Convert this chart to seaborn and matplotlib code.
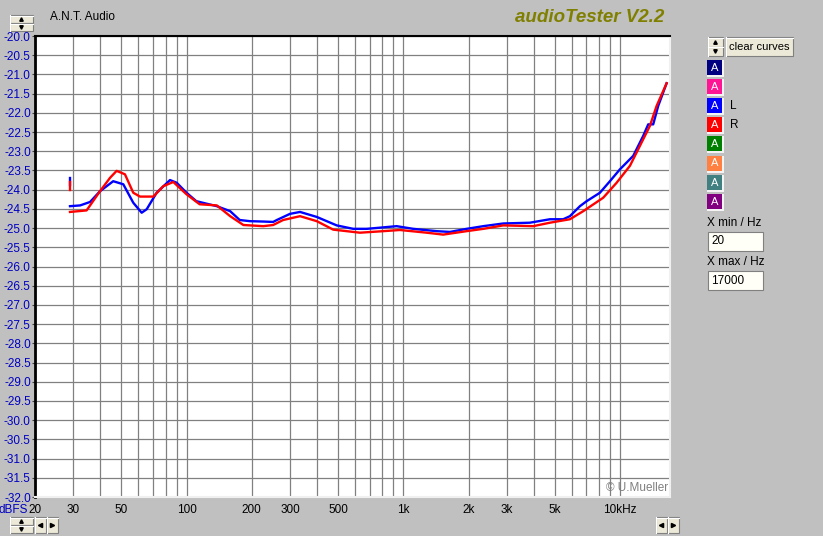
import numpy as np
import pandas as pd
import matplotlib
matplotlib.use("Agg")
import matplotlib.pyplot as plt
from matplotlib.patches import Rectangle
import seaborn as sns

# channel L (blue)
l_freq = [29, 32.3, 35.9, 39.9, 45.9, 51.1, 56.8, 62.1, 65.5, 72.8, 83.9, 90.1,
          100, 111, 138, 159, 176, 196, 226, 251, 261, 300, 334, 399, 493, 588,
          678, 932, 1112, 1425, 1641, 1960, 2338, 2892, 3838, 4748, 5467, 5871,
          6530, 7012, 8075, 8979, 9988, 11504, 12790, 13488, 14222, 14998, 16398]
l_db = [-24.43, -24.41, -24.32, -24.04, -23.78, -23.86, -24.34, -24.60, -24.51,
        -24.08, -23.75, -23.82, -24.08, -24.30, -24.43, -24.56, -24.79, -24.82,
        -24.83, -24.84, -24.79, -24.63, -24.58, -24.71, -24.93, -25.02, -25.02,
        -24.95, -25.02, -25.08, -25.10, -25.02, -24.95, -24.88, -24.86, -24.77,
        -24.77, -24.69, -24.43, -24.30, -24.08, -23.78, -23.47, -23.12, -22.60,
        -22.30, -22.30, -21.82, -21.23]

# channel R (red)
r_freq = [29, 34.6, 39.9, 44.4, 47.6, 52.0, 56.8, 61.0, 70.3, 78.1, 86.9, 100,
          115, 138, 159, 183, 226, 251, 279, 334, 399, 475, 631, 809, 965, 1282,
          1528, 1960, 2338, 2892, 3977, 4748, 5871, 6763, 8362, 9642, 11106,
          12350, 13732, 14746, 16398]
r_db = [-24.58, -24.54, -24.04, -23.69, -23.51, -23.60, -24.08, -24.18, -24.18,
        -23.91, -23.80, -24.12, -24.38, -24.41, -24.69, -24.92, -24.95, -24.92,
        -24.79, -24.69, -24.82, -25.04, -25.12, -25.08, -25.05, -25.12, -25.17,
        -25.08, -25.02, -24.93, -24.95, -24.86, -24.77, -24.56, -24.21, -23.82,
        -23.38, -22.86, -22.34, -21.82, -21.23]

# short glitch at the very start of each sweep
l_glitch_db = [-23.70, -23.87]
r_glitch_db = [-23.80, -24.00]
glitch_freq = 29

x_min, x_max = 20, 17000
y_min, y_max = -32.0, -20.0
x_labels = {20: "20", 30: "30", 50: "50", 100: "100", 200: "200", 300: "300",
            500: "500", 1000: "1k", 2000: "2k", 3000: "3k", 5000: "5k",
            10000: "10kHz"}

legend_colors = ["#000080", "#FF1493", "#0000FF", "#FF0000",
                 "#008000", "#FF8040", "#408080", "#800080"]
legend_names = ["", "", "L", "R", "", "", "", ""]

def build_frame():
    parts = [
        pd.DataFrame({"freq": l_freq, "db": l_db, "ch": "L", "seg": "main"}),
        pd.DataFrame({"freq": [glitch_freq] * 2, "db": l_glitch_db, "ch": "L", "seg": "glitch"}),
        pd.DataFrame({"freq": r_freq, "db": r_db, "ch": "R", "seg": "main"}),
        pd.DataFrame({"freq": [glitch_freq] * 2, "db": r_glitch_db, "ch": "R", "seg": "glitch"}),
    ]
    return pd.concat(parts, ignore_index=True)

def button(ax, x, y, w, h, face="#ECE9D8"):
    ax.add_patch(Rectangle((x, y), w, h, facecolor=face, edgecolor="#808080", lw=0.8))
    ax.plot([x, x + w], [y + 0.5, y + 0.5], color="white", lw=0.8)
    ax.plot([x + 0.5, x + 0.5], [y, y + h], color="white", lw=0.8)

def spinner(ax, x, y, w, h):
    button(ax, x, y, w, h / 2)
    button(ax, x, y + h / 2, w, h / 2)
    ax.plot(x + w / 2, y + h / 4, marker="^", ms=2.5, color="black")
    ax.plot(x + w / 2, y + 3 * h / 4, marker="v", ms=2.5, color="black")

def arrows(ax, x, y):
    button(ax, x, y, 11, 16)
    button(ax, x + 12, y, 11, 16)
    ax.plot(x + 5.5, y + 8, marker="<", ms=3, color="black")
    ax.plot(x + 17.5, y + 8, marker=">", ms=3, color="black")

def main():
    plt.rcParams["font.family"] = ["Liberation Sans", "DejaVu Sans"]
    df = build_frame()

    fig = plt.figure(figsize=(8.23, 5.36), dpi=100, facecolor="#C0C0C0")
    ax = fig.add_axes([35 / 823, 1 - 497 / 536, 635 / 823, 461 / 536])
    ax.set_facecolor("white")

    sns.lineplot(data=df, x="freq", y="db", hue="ch", units="seg",
                 estimator=None, sort=False,
                 palette={"L": "#0000FF", "R": "#FF0000"},
                 linewidth=1.7, legend=False, ax=ax)

    ax.set_xscale("log")
    ax.set_xlim(x_min, x_max)
    ax.set_ylim(y_min, y_max)

    grid_freqs = [f * d for d in (10, 100, 1000) for f in range(1, 10)] + [10000]
    grid_freqs = [f for f in grid_freqs if f >= 20]
    ax.set_xticks(grid_freqs)
    ax.set_xticklabels([x_labels.get(f, "") for f in grid_freqs], fontsize=8.5)
    ax.xaxis.set_minor_locator(matplotlib.ticker.NullLocator())
    ax.tick_params(axis="x", length=0, pad=5)

    yt = np.arange(-32.0, -19.9, 0.5)
    ax.set_yticks(yt)
    ax.set_yticklabels([f"{v:.1f}" for v in yt], fontsize=8.5, color="#0000C0")
    ax.tick_params(axis="y", length=2, pad=1, color="#404040")

    ax.grid(True, color="#808080", lw=0.9)
    ax.set_axisbelow(True)
    ax.set_xlabel("")
    ax.set_ylabel("")
    ax.spines["left"].set_color("black")
    ax.spines["left"].set_linewidth(2)
    ax.spines["top"].set_color("black")
    ax.spines["top"].set_linewidth(1.5)
    ax.spines["right"].set_color("#F0F0F0")
    ax.spines["right"].set_linewidth(1.5)
    ax.spines["bottom"].set_color("#F0F0F0")
    ax.spines["bottom"].set_linewidth(1.5)

    ax.text(0.997, 0.006, "\u00a9 U.Mueller", transform=ax.transAxes,
            ha="right", va="bottom", fontsize=8.5, color="#808080")

    # overlay in pixel coordinates for the window decoration
    ov = fig.add_axes([0, 0, 1, 1], facecolor="none")
    ov.set_xlim(0, 823)
    ov.set_ylim(536, 0)
    ov.axis("off")

    ov.text(50, 17, "A.N.T. Audio", fontsize=8.5, va="center", ha="left")
    ov.text(590, 18, "audioTester V2.2", fontsize=13.5, va="center", ha="center",
            color="#808000", fontweight="bold", fontstyle="italic")
    ov.text(28, 510, "dBFS", fontsize=8.5, va="center", ha="right", color="#0000C0")

    spinner(ov, 10, 15, 23, 16)
    spinner(ov, 10, 517, 23, 16)
    arrows(ov, 35, 517)
    arrows(ov, 656, 517)

    spinner(ov, 708, 37, 15, 19)
    button(ov, 726, 37, 67, 19)
    ov.text(759.5, 47, "clear curves", fontsize=8, ha="center", va="center")

    for i, (c, name) in enumerate(zip(legend_colors, legend_names)):
        y = 60 + i * 19.1
        ov.add_patch(Rectangle((707, y), 17, 17, facecolor="#F4F4F4", edgecolor="none"))
        ov.add_patch(Rectangle((707, y), 15, 15, facecolor=c, edgecolor="none"))
        ov.text(714.5, y + 8, "A", color="white", fontsize=8, ha="center", va="center")
        if name:
            ov.text(730, y + 7.5, name, fontsize=8.5, ha="left", va="center")

    ov.text(707, 223, "X min / Hz", fontsize=8.5, ha="left", va="center")
    ov.add_patch(Rectangle((708, 232), 55, 19, facecolor="#FFFFF8", edgecolor="#808080", lw=0.8))
    ov.text(711, 241.5, "20", fontsize=8.5, ha="left", va="center")
    ov.text(707, 262, "X max / Hz", fontsize=8.5, ha="left", va="center")
    ov.add_patch(Rectangle((708, 271), 55, 19, facecolor="#FFFFF8", edgecolor="#808080", lw=0.8))
    ov.text(711, 280.5, "17000", fontsize=8.5, ha="left", va="center")

    fig.savefig("out.png", dpi=100, facecolor=fig.get_facecolor())

if __name__ == "__main__":
    main()
